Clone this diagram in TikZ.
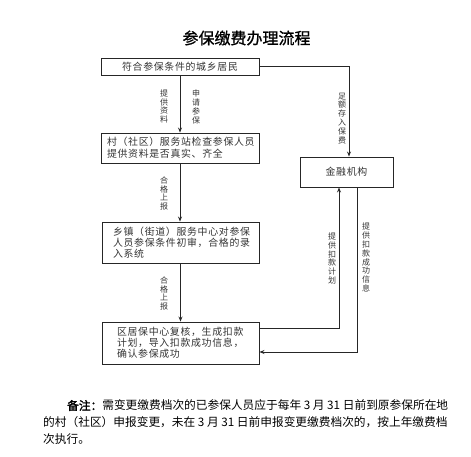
\documentclass[tikz,border=0pt]{standalone}
\usepackage{fontspec}
\usetikzlibrary{arrows.meta}
\newfontfamily\cjk[LetterSpace=7]{Noto Sans CJK SC}
\newfontfamily\cjkplain{Noto Sans CJK SC}
\newfontfamily\cjktitle[FakeBold=1]{Noto Sans CJK SC}
\newfontfamily\cjkbold[FakeBold=2]{Noto Sans CJK SC}
\begin{document}
\begin{tikzpicture}[x=1pt,y=-1pt,
  box/.style={draw=black!85,line width=0.9pt,inner ysep=0pt,font=\cjk\fontsize{9.9}{11.5}\selectfont,text=black!80},
  conn/.style={draw=black!85,line width=0.8pt},
  arr/.style={conn,-{Stealth[length=5pt,width=4pt]}},
  vlab/.style={align=center,inner sep=0pt,font=\cjkplain\fontsize{8}{8.9}\selectfont,text=black!80},
  note/.style={anchor=west,inner sep=0pt,font=\cjkplain\fontsize{11.7}{14}\selectfont}
]
\useasboundingbox (0,0) rectangle (471,457);
\node[font=\cjktitle\fontsize{16}{18}\selectfont] (title) at (246.5,38) {参保缴费办理流程};

\node[box,minimum width=158pt,minimum height=17pt,inner xsep=0pt] (b1) at (180,66.5) {符合参保条件的城乡居民};
\node[box,minimum width=158pt,minimum height=30pt,inner xsep=6pt,text width=146pt,align=left,font=\cjk\fontsize{9.9}{12.2}\selectfont] (b2) at (180,148) {村（社区）服务站检查参保人员\\提供资料是否真实、齐全};
\node[box,minimum width=157pt,minimum height=41pt,inner xsep=11pt,text width=135pt,align=left,font=\cjk\fontsize{9.9}{11}\selectfont] (b3) at (180.5,242.5) {乡镇（街道）服务中心对参保\\人员参保条件初审，合格的录\\入系统};
\node[box,minimum width=157pt,minimum height=42pt,inner xsep=15pt,text width=127pt,align=left,font=\cjk\fontsize{9.9}{11}\selectfont] (b4) at (180.5,343) {区居保中心复核，生成扣款\\计划，导入扣款成功信息，\\确认参保成功};
\node[box,minimum width=93pt,minimum height=30pt,inner xsep=0pt] (jr) at (346.5,172) {金融机构};

\draw[arr] (b1.south) -- (b2.north);
\draw[arr] (b2.south) -- (b2.south |- b3.north);
\draw[arr] (b3.south) -- (b3.south |- b4.north);
\draw[arr] (b1.east) -| ([xshift=2.5pt]jr.north);
\draw[arr] ([yshift=15pt]b4.east) -| ([xshift=-7.5pt]jr.south);
\draw[arr] ([xshift=10.5pt]jr.south) |- ([yshift=-9pt]b4.east);

\node[vlab] (l1) at (164,106.5) {提\\供\\资\\料};
\node[vlab] (l2) at (196,107) {申\\请\\参\\保};
\node[vlab] (l3) at (164,193.5) {合\\格\\上\\报};
\node[vlab] (l4) at (164,293.5) {合\\格\\上\\报};
\node[vlab] (l5) at (342,118.5) {足\\额\\存\\入\\保\\费};
\node[vlab] (l6) at (332,258.5) {提\\供\\扣\\款\\计\\划};
\node[vlab] (l7) at (366,257.5) {提\\供\\扣\\款\\成\\功\\信\\息};

\node[note] (n1) at (67,405.5) {{\cjkbold 备注：}需变更缴费档次的已参保人员应于每年 3 月 31 日前到原参保所在地};
\node[note] (n2) at (43,422.5) {的村（社区）申报变更，未在 3 月 31 日前申报变更缴费档次的，按上年缴费档};
\node[note] (n3) at (43,439.5) {次执行。};
\end{tikzpicture}
\end{document}
